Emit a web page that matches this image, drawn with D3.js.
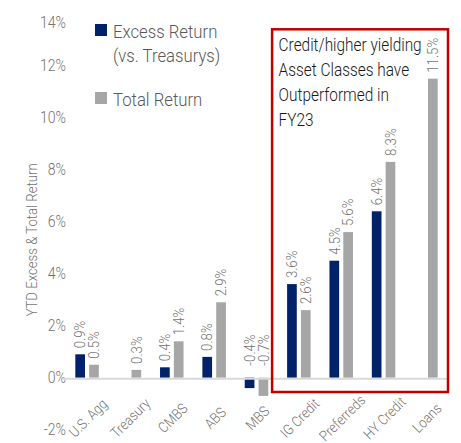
<!DOCTYPE html>
<html>
<head>
<meta charset="utf-8">
<script src="https://cdn.jsdelivr.net/npm/d3@7"></script>
<style>
	html, body { margin: 0; padding: 0; background: #fff; }
	svg { display: block; }
</style>
</head>
<body>
<div id="chart"></div>
<script>
(function () {
	// Data
	const CATEGORIES = ["U.S. Agg", "Treasury", "CMBS", "ABS", "MBS", "IG Credit", "Preferreds", "HY Credit", "Loans"];
	const EXCESS = [0.9, null, 0.4, 0.8, -0.4, 3.6, 4.5, 6.4, null];
	const TOTAL = [0.5, 0.3, 1.4, 2.9, -0.7, 2.6, 5.6, 8.3, 11.5];
	const Y_TICKS = [-2, 0, 2, 4, 6, 8, 10, 12, 14];
	const SERIES = ["Excess Return\n(vs. Treasurys)", "Total Return"];
	const BOX_NOTE = ["Credit/higher yielding", "Asset Classes have", "Outperformed in", "FY23"];

	// Colors
	const NAVY = "#012169";
	const GREY_BAR = "#a6a6a6";
	const AXIS_TXT = "#737373";
	const RED = "#c00000";
	const FONT = "Roboto, 'Liberation Sans', sans-serif";
	const SX = 0.88; // squeeze text horizontally, the source font is a condensed one

	const width = 461;
	const height = 443;

	// translate / rotate / squeeze helper for text
	const tf = (tx, ty, rot) => `translate(${tx},${ty})` + (rot ? ` rotate(${rot})` : "") + ` scale(${SX},1)`;

	const svg = d3.select("#chart")
		.append("svg")
		.attr("width", width)
		.attr("height", height)
		.style("font-family", FONT)
		.style("font-weight", 300);

	svg.append("rect").attr("width", width).attr("height", height).attr("fill", "#fff");

	// Scales
	const x = d3.scaleBand().domain(CATEGORIES).range([66, 447]).paddingInner(0.445).paddingOuter(0.22);
	const x1 = d3.scaleBand().domain(["excess", "total"]).range([0, x.bandwidth()]).paddingInner(0.3);
	const y = d3.scaleLinear().domain([-2, 14]).range([429.7, 13.7]);

	const rows = CATEGORIES.map((c, i) => ({ cat: c, excess: EXCESS[i], total: TOTAL[i] }));
	const bars = [];
	rows.forEach(r => {
		if (r.excess !== null) bars.push({ cat: r.cat, key: "excess", v: r.excess });
		if (r.total !== null) bars.push({ cat: r.cat, key: "total", v: r.total });
	});
	const fill = k => (k === "excess" ? NAVY : GREY_BAR);

	// Y axis (labels only)
	const yAxisG = svg.append("g").attr("transform", "translate(66,0)")
		.call(d3.axisLeft(y).tickValues(Y_TICKS).tickSize(0).tickPadding(0).tickFormat(d => d + "%"));
	yAxisG.select(".domain").remove();
	yAxisG.selectAll("text")
		.style("font-family", FONT)
		.style("font-weight", 300)
		.style("font-size", "16px")
		.attr("fill", AXIS_TXT)
		.attr("x", 0)
		.attr("transform", `scale(${SX},1)`)
		.attr("dy", d => (d === 14 ? "0.85em" : "0.32em"));

	svg.append("text")
		.attr("transform", tf(32, y(5.3), -90))
		.attr("text-anchor", "middle")
		.attr("dy", "0.35em")
		.style("font-size", "15px")
		.attr("fill", AXIS_TXT)
		.text("YTD Excess & Total Return");

	// Bars
	svg.append("g").selectAll("rect")
		.data(bars)
		.join("rect")
		.attr("x", d => x(d.cat) + x1(d.key))
		.attr("y", d => y(Math.max(0, d.v)))
		.attr("width", x1.bandwidth())
		.attr("height", d => Math.abs(y(d.v) - y(0)))
		.attr("fill", d => fill(d.key));

	// zero line
	svg.append("line")
		.attr("x1", x.range()[0] - 3)
		.attr("x2", x.range()[1])
		.attr("y1", y(0) + 1)
		.attr("y2", y(0) + 1)
		.attr("stroke", "#d9d9d9")
		.attr("stroke-width", 2);

	// Value labels
	svg.append("g").selectAll("text")
		.data(bars)
		.join("text")
		.attr("transform", d => {
			const cx = x(d.cat) + x1(d.key) + x1.bandwidth() / 2;
			const cy = y(Math.max(0, d.v)) - (d.v < 0 ? 12 : 6);
			return tf(cx, cy, -90);
		})
		.attr("dy", "0.35em")
		.attr("text-anchor", "start")
		.style("font-size", "15px")
		.attr("fill", AXIS_TXT)
		.text(d => d.v.toFixed(1) + "%");

	// Category labels
	svg.append("g").selectAll("text")
		.data(CATEGORIES)
		.join("text")
		.attr("transform", d => tf(x(d) + x.bandwidth() / 2 + 1, 418, -45))
		.attr("text-anchor", "middle")
		.attr("dy", "0.35em")
		.style("font-size", "14.5px")
		.attr("fill", AXIS_TXT)
		.text(d => d);

	// Legend
	const legRows = [
		{ key: "excess", lines: SERIES[0].split("\n"), y: 24 },
		{ key: "total", lines: SERIES[1].split("\n"), y: 92 },
	];
	legRows.forEach(r => {
		svg.append("rect")
			.attr("x", 95).attr("y", r.y)
			.attr("width", 12).attr("height", 12)
			.attr("fill", fill(r.key));
		const t = svg.append("text")
			.attr("transform", tf(113, r.y + 13.5))
			.style("font-size", "19px")
			.attr("fill", "#595959");
		r.lines.forEach((ln, i) => {
			t.append("tspan").attr("x", 0).attr("dy", i === 0 ? 0 : 25).text(ln);
		});
	});

	// Highlight box
	const bx0 = x("IG Credit") - 15;
	const bx1 = x.range()[1] + 1;
	const by0 = y(13.4);
	const by1 = y(-0.55);
	svg.append("rect")
		.attr("x", bx0)
		.attr("y", by0)
		.attr("width", bx1 - bx0)
		.attr("height", by1 - by0)
		.attr("fill", "none")
		.attr("stroke", RED)
		.attr("stroke-width", 2.5);

	const note = svg.append("text")
		.attr("transform", tf(bx0 + 6.5, by0 + 22))
		.style("font-size", "17.5px")
		.style("font-weight", 300)
		.attr("fill", "#1a1a1a");
	BOX_NOTE.forEach((ln, i) => {
		note.append("tspan").attr("x", 0).attr("dy", i === 0 ? 0 : 25).text(ln);
	});
})();
</script>
</body>
</html>
